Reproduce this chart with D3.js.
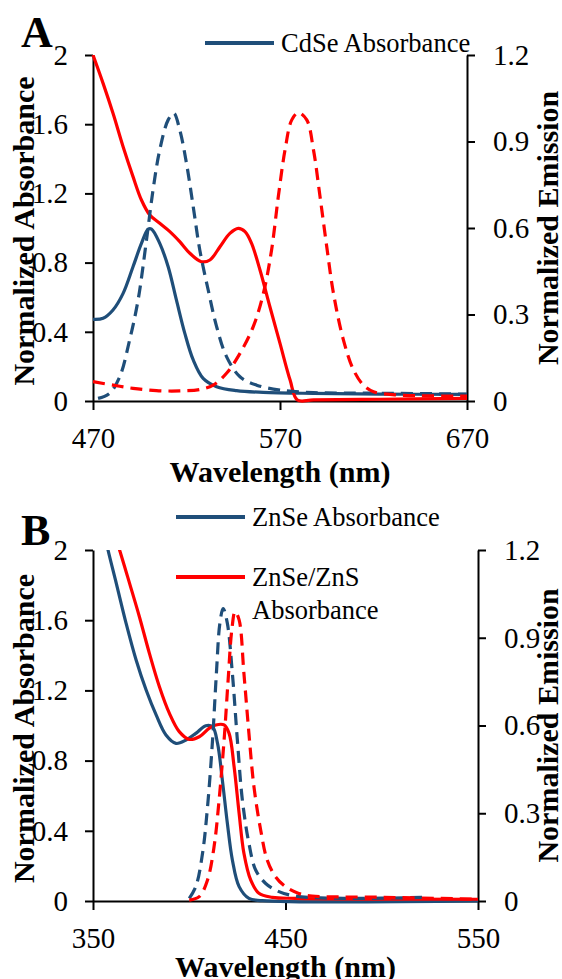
<!DOCTYPE html>
<html>
<head>
<meta charset="utf-8">
<script src="https://cdn.jsdelivr.net/npm/d3@7"></script>
<style>
  body { margin: 0; background: #fff; }
  .axis path, .axis line { stroke: #000; stroke-width: 2; }
</style>
</head>
<body>
<svg id="chart" width="562" height="979"></svg>
<script>
// --- data: [wavelength (nm), normalized value] ---
const cdseAbs = [[470,0.472],[475.4,0.478],[480.7,0.526],[486.1,0.622],[491.4,0.776],[495.9,0.911],[499.5,0.994],[501.3,0.994],[505.7,0.911],[510.2,0.776],[514.6,0.584],[519.1,0.391],[523.6,0.237],[528.9,0.131],[536.1,0.083],[546.8,0.060],[561,0.050],[587.9,0.044],[623.6,0.040],[670,0.038]];
const cdseZnsAbs = [[470,2.0],[475.4,1.836],[480.7,1.663],[486.1,1.47],[491.4,1.297],[495.9,1.162],[500.4,1.075],[505.7,1.027],[511.1,0.979],[516.4,0.921],[521.8,0.854],[528,0.805],[532.5,0.815],[537.9,0.892],[543.2,0.969],[547.7,0.998],[551.3,0.979],[554.8,0.911],[559.3,0.757],[564.6,0.545],[570,0.333],[575.4,0.121],[579.3,0.006],[587.9,0.006],[623.6,0.01],[670,0.015]];
const cdseEm = [[472.7,0.009],[478.9,0.027],[484.3,0.084],[489.6,0.212],[494.1,0.35],[498.6,0.558],[502.1,0.732],[505.7,0.871],[510.2,0.975],[513.2,0.998],[516.4,0.94],[520,0.824],[523.6,0.674],[527.1,0.524],[531.6,0.385],[536.1,0.258],[541.4,0.154],[548.6,0.084],[557.5,0.055],[570,0.038],[587.9,0.029],[623.6,0.027],[670,0.024]];
const cdseZnsEm = [[470,0.067],[480.7,0.055],[491.4,0.044],[503.9,0.036],[516.4,0.035],[527.1,0.04],[534.3,0.055],[541.4,0.096],[548.6,0.165],[555.7,0.258],[561.1,0.373],[565.5,0.524],[569.1,0.709],[572.7,0.871],[576.3,0.975],[579.8,1.0],[584.3,0.975],[587.9,0.871],[591.4,0.709],[595,0.535],[598.6,0.373],[603.9,0.212],[609.3,0.108],[614.6,0.055],[620,0.032],[632.5,0.021],[670,0.017]];

const znseAbs = [[356,2.095],[357.8,2.0],[362.1,1.81],[367.2,1.582],[372.4,1.373],[377.6,1.202],[382.8,1.06],[387.9,0.946],[393.1,0.898],[398.3,0.917],[403.4,0.955],[408.6,0.999],[412.1,0.993],[414.7,0.898],[417.2,0.689],[419.8,0.443],[422.4,0.234],[425.9,0.082],[431,0.015],[437.9,0.002],[550,0]];
const znseZnsAbs = [[362,2.06],[363.8,2.0],[369,1.81],[374.1,1.62],[379.3,1.411],[384.5,1.221],[389.7,1.069],[394.8,0.965],[400,0.921],[405.2,0.936],[410.3,0.984],[413.8,1.003],[418.1,1.003],[420.7,0.955],[423.3,0.765],[425.9,0.5],[428.4,0.272],[431.9,0.12],[436.2,0.044],[443.1,0.021],[455.2,0.015],[550,0.01]];
const znseEm = [[400,0.009],[403.4,0.049],[406.9,0.163],[409.5,0.322],[412.1,0.55],[414.1,0.778],[415.9,0.949],[417.6,1.0],[419.8,0.949],[422.4,0.778],[425,0.55],[427.6,0.345],[431,0.197],[434.5,0.106],[439.7,0.06],[446.6,0.032],[455.2,0.017],[481,0.009],[524.1,0.013]];
const znseZnsEm = [[400,0.003],[405.2,0.015],[409.5,0.072],[412.9,0.186],[415.5,0.345],[418.1,0.55],[420.2,0.756],[422.1,0.926],[423.8,0.989],[425.9,0.961],[428.4,0.778],[431,0.573],[433.6,0.391],[437.1,0.243],[440.5,0.14],[444.8,0.083],[450,0.049],[456.9,0.026],[463.8,0.017],[498.3,0.013],[550,0.006]];

const absTicks = [0, 0.4, 0.8, 1.2, 1.6, 2];
const emTicks = [0, 0.3, 0.6, 0.9, 1.2];
const wlTicksA = [470, 570, 670];
const wlTicksB = [350, 450, 550];

const BLUE = '#1f4e79';
const RED = '#ff0000';
const FONT = '"Liberation Serif", "DejaVu Serif", "Times New Roman", serif';

const svg = d3.select('#chart');

function drawPanel(p) {
    const g = svg.append('g');

    const x = d3.scaleLinear().domain(p.xDomain).range([p.left, p.right]);
    const yAbs = d3.scaleLinear().domain([0, 2]).range([p.bottom, p.top]);
    const yEm = d3.scaleLinear().domain([0, 1.2]).range([p.bottom, p.top]);

    g.append('clipPath').attr('id', p.id + '-clip')
        .append('rect')
        .attr('x', p.left - 4).attr('y', p.top)
        .attr('width', p.right - p.left + 8).attr('height', p.bottom - p.top + 4);

    // axes
    const styleTicks = a => a.attr('font-family', FONT).attr('font-size', 29)
        .selectAll('text').attr('fill', '#000');

    g.append('g').attr('class', 'axis')
        .attr('transform', `translate(0,${p.bottom})`)
        .call(d3.axisBottom(x).tickValues(p.xTicks).tickSize(9).tickSizeOuter(0).tickPadding(17).tickFormat(d3.format('d')))
        .call(styleTicks);

    g.append('g').attr('class', 'axis')
        .attr('transform', `translate(${p.left},0)`)
        .call(d3.axisLeft(yAbs).tickValues(absTicks).tickSize(8).tickSizeOuter(0).tickPadding(17).tickFormat(d3.format('~g')))
        .call(styleTicks);

    g.append('g').attr('class', 'axis')
        .attr('transform', `translate(${p.right},0)`)
        .call(d3.axisRight(yEm).tickValues(emTicks).tickSize(8).tickSizeOuter(0).tickPadding(18).tickFormat(d3.format('~g')))
        .call(styleTicks);

    // series
    const plot = g.append('g').attr('clip-path', `url(#${p.id}-clip)`);
    const lineAbs = d3.line().x(d => x(d[0])).y(d => yAbs(d[1])).curve(d3.curveCatmullRom.alpha(0.5));
    const lineEm = d3.line().x(d => x(d[0])).y(d => yEm(d[1])).curve(d3.curveCatmullRom.alpha(0.5));

    p.series.forEach(s => {
        plot.append('path')
            .datum(s.data)
            .attr('fill', 'none')
            .attr('stroke', s.color)
            .attr('stroke-width', 3.2)
            .attr('stroke-dasharray', s.dashed ? '12,7' : null)
            .attr('d', s.axis === 'em' ? lineEm : lineAbs);
    });

    // axis titles
    g.append('text')
        .attr('x', (p.left + p.right) / 2).attr('y', p.xTitleY)
        .attr('text-anchor', 'middle').attr('font-family', FONT).attr('font-size', 30).attr('font-weight', 'bold')
        .text('Wavelength (nm)');

    g.append('text')
        .attr('transform', `translate(34,${(p.top + p.bottom) / 2 + 3}) rotate(-90)`)
        .attr('text-anchor', 'middle').attr('font-family', FONT).attr('font-size', 30).attr('font-weight', 'bold')
        .text('Normalized Absorbance');

    g.append('text')
        .attr('transform', `translate(558,${(p.top + p.bottom) / 2}) rotate(-90)`)
        .attr('text-anchor', 'middle').attr('font-family', FONT).attr('font-size', 30).attr('font-weight', 'bold')
        .text('Normalized Emission');

    // panel letter
    g.append('text')
        .attr('x', 21).attr('y', p.letterY)
        .attr('font-family', FONT).attr('font-size', 44).attr('font-weight', 'bold')
        .text(p.letter);

    // legend
    p.legend.forEach(l => {
        g.append('line')
            .attr('x1', l.x).attr('x2', l.x + 69)
            .attr('y1', l.y).attr('y2', l.y)
            .attr('stroke', l.color).attr('stroke-width', 4);
        const t = g.append('text')
            .attr('x', l.x + 76).attr('y', l.y + 9)
            .attr('font-family', FONT).attr('font-size', 26.5);
        l.lines.forEach((txt, i) => {
            t.append('tspan').attr('x', l.x + 76).attr('dy', i === 0 ? 0 : 33).text(txt);
        });
    });
}

drawPanel({
    id: 'a', letter: 'A', letterY: 47,
    xDomain: [470, 670], xTicks: wlTicksA,
    left: 93, right: 467, top: 55, bottom: 401, xTitleY: 482,
    series: [
        { data: cdseAbs, color: BLUE, axis: 'abs' },
        { data: cdseZnsAbs, color: RED, axis: 'abs' },
        { data: cdseEm, color: BLUE, axis: 'em', dashed: true },
        { data: cdseZnsEm, color: RED, axis: 'em', dashed: true }
    ],
    legend: [
        { x: 205, y: 43, color: BLUE, lines: ['CdSe Absorbance'] }
    ]
});

drawPanel({
    id: 'b', letter: 'B', letterY: 545,
    xDomain: [350, 550], xTicks: wlTicksB,
    left: 93, right: 478, top: 550, bottom: 901, xTitleY: 977,
    series: [
        { data: znseAbs, color: BLUE, axis: 'abs' },
        { data: znseZnsAbs, color: RED, axis: 'abs' },
        { data: znseEm, color: BLUE, axis: 'em', dashed: true },
        { data: znseZnsEm, color: RED, axis: 'em', dashed: true }
    ],
    legend: [
        { x: 176, y: 517, color: BLUE, lines: ['ZnSe Absorbance'] },
        { x: 176, y: 577, color: RED, lines: ['ZnSe/ZnS', 'Absorbance'] }
    ]
});
</script>
</body>
</html>
